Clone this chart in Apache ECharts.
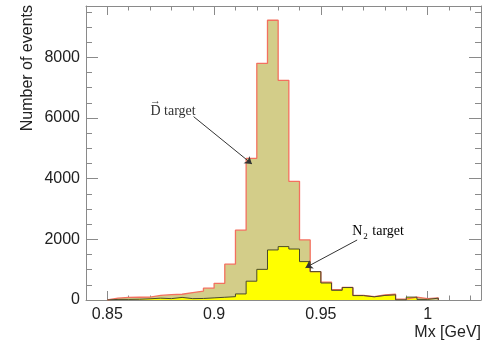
<!DOCTYPE html>
<html>
<head>
<meta charset="utf-8">
<script src="https://cdn.jsdelivr.net/npm/echarts@6/dist/echarts.min.js"></script>
<style>
  html, body { margin: 0; padding: 0; background: #fff; }
  #chart { width: 493px; height: 346px; }
</style>
</head>
<body>
<div id="chart"></div>
<script>
// bin left edges (GeV), bin width 0.005
var binEdges = [0.85, 0.855, 0.86, 0.865, 0.87, 0.875, 0.88, 0.885, 0.89, 0.895,
                0.9, 0.905, 0.91, 0.915, 0.92, 0.925, 0.93, 0.935, 0.94, 0.945,
                0.95, 0.955, 0.96, 0.965, 0.97, 0.975, 0.98, 0.985, 0.99, 0.995, 1.0];
var binEnd = 1.005;

// D target events per bin
var dTarget = [60, 85, 90, 95, 150, 175, 190, 245, 295, 390,
               550, 1180, 2300, 4670, 7800, 9220, 7240, 3910, 1980, 935,
               590, 345, 415, 150, 110, 165, 190, 30, 95, 45, 70];
// N2 target events per bin
var n2Target = [20, 20, 25, 40, 60, 45, 85, 45, 50, 70,
                90, 110, 200, 620, 1010, 1650, 1760, 1680, 1265, 935,
                560, 320, 410, 145, 105, 150, 170, 5, 95, 20, 60];

var xLabels = [0.85, 0.9, 0.95, 1];
var xMinor = [0.84, 0.86, 0.87, 0.88, 0.89, 0.91, 0.92, 0.93, 0.94, 0.96,
              0.97, 0.98, 0.99, 1.01, 1.02];
var yLabels = [0, 2000, 4000, 6000, 8000];
var yMinor = [500, 1000, 1500, 2500, 3000, 3500, 4500, 5000, 5500, 6500,
              7000, 7500, 8500, 9000, 9500];

var chart = echarts.init(document.getElementById('chart'));

function stepData(vals) {
    var out = [[binEdges[0], 0]];
    for (var i = 0; i < vals.length; i++) out.push([binEdges[i], vals[i]]);
    out.push([binEnd, 0]);
    return out;
}

var frameColor = '#8a8a8a';
var sansFont = '"Liberation Sans", Arial, sans-serif';
var serifFont = '"Liberation Serif", "Times New Roman", serif';

function xAx(pos, ticks, len, showLabel, showLine) {
    return {
        type: 'value', position: pos, min: 0.84, max: 1.025,
        splitLine: {show: false},
        axisLine: {show: showLine, onZero: false, lineStyle: {color: frameColor, width: 1}},
        axisTick: {show: true, inside: true, length: len, customValues: ticks,
                   lineStyle: {color: frameColor}},
        axisLabel: {show: showLabel, customValues: ticks, margin: 7,
                    color: '#222', fontSize: 16, fontFamily: sansFont,
                    formatter: function (v) { return String(v); }}
    };
}
function yAx(pos, ticks, len, showLabel, showLine) {
    return {
        type: 'value', position: pos, min: 0, max: 9690,
        splitLine: {show: false},
        axisLine: {show: showLine, onZero: false, lineStyle: {color: frameColor, width: 1}},
        axisTick: {show: true, inside: true, length: len, customValues: ticks,
                   lineStyle: {color: frameColor}},
        axisLabel: {show: showLabel, customValues: ticks, margin: 6,
                    color: '#222', fontSize: 16, fontFamily: sansFont,
                    formatter: function (v) { return String(v); }}
    };
}

var option = {
    animation: false,
    grid: {left: 86, right: 12, top: 6, bottom: 46},
    xAxis: [
        xAx('bottom', xLabels, 9, true, true),
        xAx('bottom', xMinor, 4.5, false, false),
        xAx('top', xLabels, 9, false, true),
        xAx('top', xMinor, 4.5, false, false)
    ],
    yAxis: [
        yAx('left', yLabels, 12, true, true),
        yAx('left', yMinor, 6, false, false),
        yAx('right', yLabels, 12, false, true),
        yAx('right', yMinor, 6, false, false)
    ],
    series: [
        {
            name: 'D target', type: 'line', step: 'end',
            xAxisIndex: 0, yAxisIndex: 0,
            showSymbol: false, symbol: 'none',
            lineStyle: {color: '#f3705f', width: 1.3},
            areaStyle: {color: '#d3cd89', opacity: 1},
            data: stepData(dTarget),
            markLine: {
                silent: true, symbol: ['none', 'arrow'], symbolSize: 7,
                label: {show: false},
                lineStyle: {color: '#333', width: 1, type: 'solid'},
                data: [
                    [{coord: [0.8904, 6043]}, {coord: [0.9177, 4484]}],
                    [{coord: [0.967, 1978]}, {coord: [0.9428, 1065]}]
                ]
            }
        },
        {
            name: 'N2 target', type: 'line', step: 'end',
            xAxisIndex: 0, yAxisIndex: 0,
            showSymbol: false, symbol: 'none',
            lineStyle: {color: '#4a4a2a', width: 1},
            areaStyle: {color: '#ffff00', opacity: 1},
            data: stepData(n2Target),
            z: 3
        }
    ]
};
chart.setOption(option);

// annotation anchors in data space
var dPos = chart.convertToPixel({seriesIndex: 0}, [0.8702, 6232]);
var nPos = chart.convertToPixel({seriesIndex: 0}, [0.9647, 2252]);

chart.setOption({
    graphic: [
        {
            type: 'text', x: 28, y: 5, rotation: Math.PI / 2,
            style: {text: 'Number of events', font: '16px ' + sansFont, fill: '#222',
                    textAlign: 'right', textVerticalAlign: 'middle'}
        },
        {
            type: 'text', x: 481, y: 333,
            style: {text: 'Mx [GeV]', font: '16px ' + sansFont, fill: '#222',
                    textAlign: 'right', textVerticalAlign: 'middle'}
        },
        {
            type: 'text', x: dPos[0], y: dPos[1],
            style: {text: 'D target', font: '14px ' + serifFont, fill: '#333',
                    textAlign: 'left', textVerticalAlign: 'middle'}
        },
        {
            type: 'text', x: dPos[0] + 5, y: dPos[1] - 10,
            style: {text: '\u2192', font: '11px ' + serifFont, fill: '#333',
                    textAlign: 'center', textVerticalAlign: 'middle'}
        },
        {
            type: 'text', x: nPos[0], y: nPos[1],
            style: {
                text: '{n|N}{s|2}{n| target}',
                textAlign: 'left', textVerticalAlign: 'middle',
                rich: {
                    n: {fontSize: 14, fontFamily: serifFont, color: '#333', lineHeight: 18},
                    s: {fontSize: 9, fontFamily: serifFont, color: '#333', lineHeight: 18,
                        verticalAlign: 'bottom', padding: [0, 1, 0, 1]}
                }
            }
        }
    ]
});
</script>
</body>
</html>
